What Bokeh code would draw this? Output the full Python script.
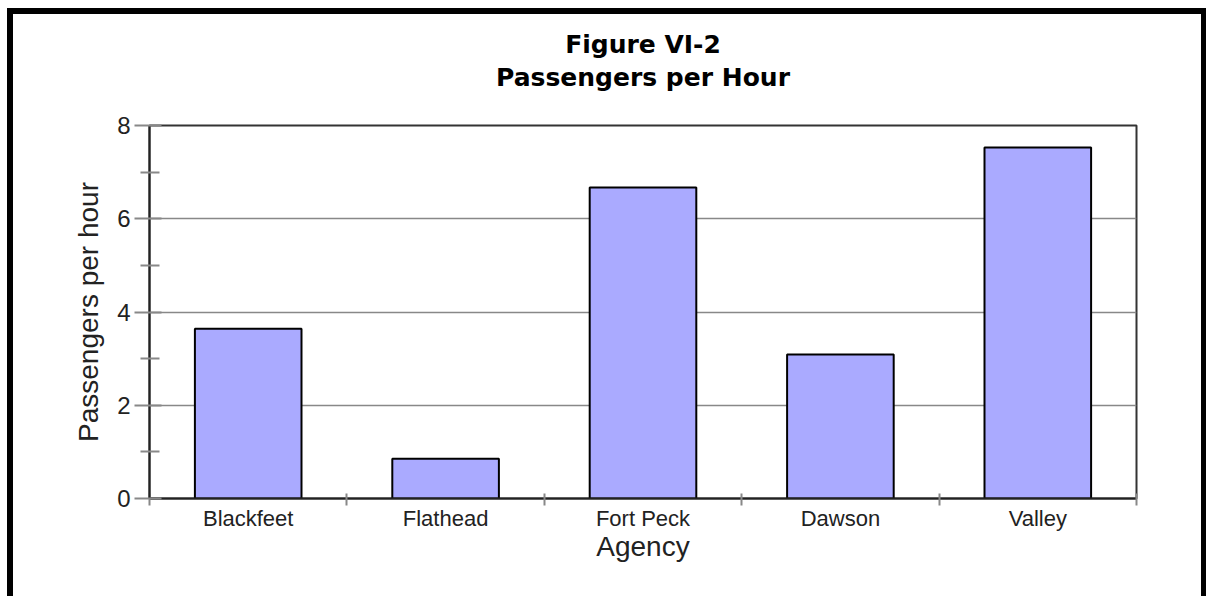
from bokeh.plotting import figure
from bokeh.layouts import column
from bokeh.models import (FactorRange, Range1d, FixedTicker, LinearAxis,
                          CategoricalAxis, Title)
from bokeh.embed import file_html
from bokeh.resources import INLINE

# ---- data ----
agencies = ["Blackfeet", "Flathead", "Fort Peck", "Dawson", "Valley"]
passengers_per_hour = [3.64, 0.85, 6.67, 3.09, 7.53]
y_ticks = [0, 2, 4, 6, 8]
y_minor_ticks = [1, 3, 5, 7]
title_line1 = "Figure VI-2"
title_line2 = "Passengers per Hour"
x_label = "Agency"
y_label = "Passengers per hour"

FONT = "Liberation Sans"
TFONT = "DejaVu Sans"

p = figure(width=1188, height=582, output_backend="svg", toolbar_location=None,
           x_range=FactorRange(*agencies, range_padding=0),
           y_range=Range1d(y_ticks[0], y_ticks[-1]),
           x_axis_location=None, y_axis_location="left",
           title=title_line1,
           min_border_left=136, min_border_right=65,
           min_border_top=111, min_border_bottom=98)

p.background_fill_color = "white"
p.border_fill_color = "white"
p.outline_line_color = "#333333"
p.outline_line_width = 2

# titles: upper line is the figure's own title; a blank spacer sits next to the frame
p.title.text_font = TFONT
p.title.text_font_size = "25px"
p.title.text_font_style = "bold"
p.title.text_color = "black"
p.title.align = "center"
p.title.standoff = 2
p.add_layout(Title(text=" ", align="center", text_font=TFONT,
                   text_font_size="25px", text_font_style="bold",
                   standoff=2), "above")
p.add_layout(Title(text=title_line2, align="center", text_font=TFONT,
                   text_font_size="25px", text_font_style="bold", text_color="black",
                   standoff=2), "above")

# bars
p.vbar(x=agencies, top=passengers_per_hour, width=0.54, bottom=0,
       fill_color="#AAAAFF", line_color="black", line_width=2)

# y axis
yax = p.yaxis[0]
yax.ticker = FixedTicker(ticks=y_ticks, minor_ticks=y_minor_ticks)
yax.axis_label = y_label
yax.axis_label_text_font = FONT
yax.axis_label_text_font_size = "28px"
yax.axis_label_text_font_style = "normal"
yax.axis_label_text_color = "#222222"
yax.axis_label_standoff = 10
yax.major_label_text_font = FONT
yax.major_label_text_font_size = "24px"
yax.major_label_text_color = "#222222"
yax.major_label_standoff = 4
yax.axis_line_color = "#222222"
yax.axis_line_width = 2
yax.major_tick_line_color = "#888888"
yax.major_tick_line_width = 2
yax.major_tick_out = 15
yax.major_tick_in = 12
yax.minor_tick_line_color = "#888888"
yax.minor_tick_line_width = 2
yax.minor_tick_out = 9
yax.minor_tick_in = 10

p.ygrid.grid_line_color = "#888888"
p.ygrid.grid_line_width = 1.5
p.xgrid.visible = False

# x axis: ticks at the category boundaries (synthetic coordinates) + category labels
boundaries = list(range(len(agencies) + 1))
tick_axis = LinearAxis(ticker=FixedTicker(ticks=boundaries),
                       major_label_overrides={b: "" for b in boundaries},
                       major_label_text_font_size="1px",
                       major_label_standoff=0,
                       major_tick_in=5, major_tick_out=7,
                       major_tick_line_color="#888888", major_tick_line_width=2,
                       axis_line_color="#222222", axis_line_width=2)
p.add_layout(tick_axis, "below")

cat_axis = CategoricalAxis(major_tick_line_color=None, axis_line_color=None,
                           major_tick_in=0, major_tick_out=0,
                           major_label_standoff=0,
                           major_label_text_font=FONT,
                           major_label_text_font_size="22px",
                           major_label_text_color="#222222",
                           axis_label=x_label,
                           axis_label_text_font=FONT,
                           axis_label_text_font_size="28px",
                           axis_label_text_font_style="normal",
                           axis_label_text_color="#222222",
                           axis_label_standoff=-3)
p.add_layout(cat_axis, "below")

# outer black frame of the picture
page = column(p, styles={"margin-left": "7px", "margin-top": "8px",
                         "border-left": "6px solid black",
                         "border-top": "6px solid black",
                         "border-right": "5px solid black",
                         "background-color": "white"})

open("out.html", "w").write(file_html(page, INLINE))
